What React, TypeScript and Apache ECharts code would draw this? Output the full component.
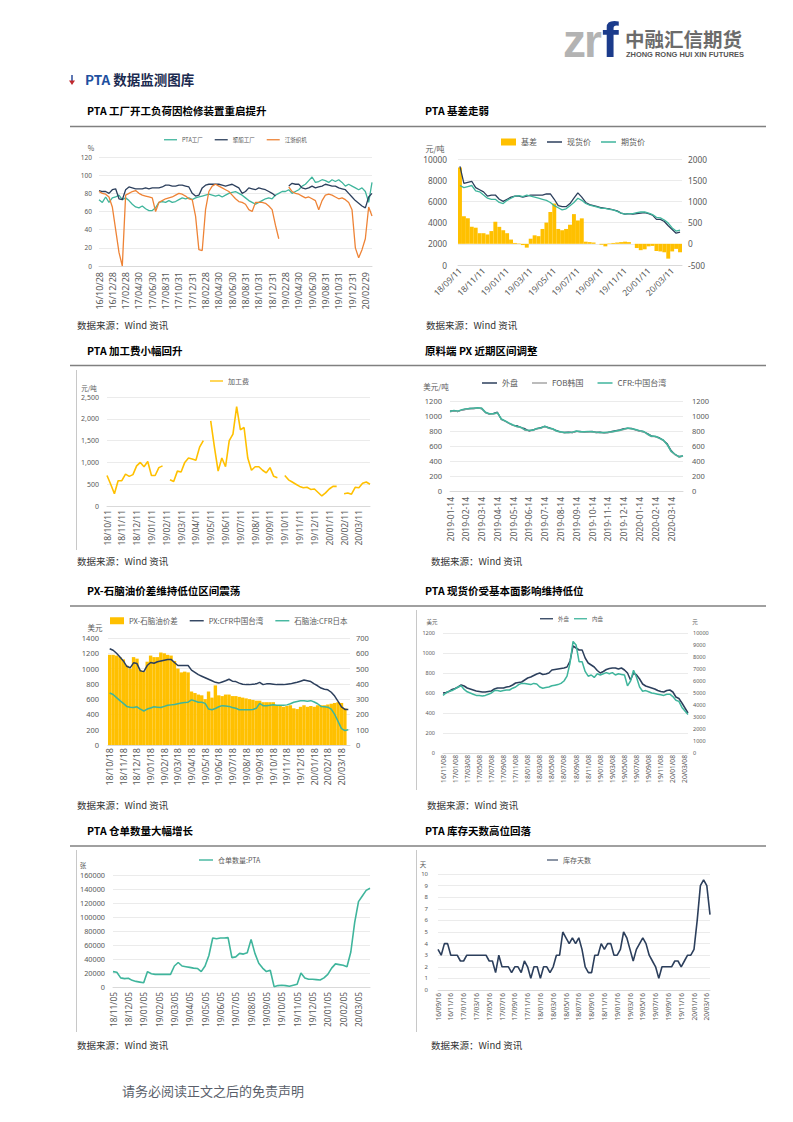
import React, { useEffect, useRef } from "react";
import * as echarts from "echarts";

// ---------------- data ----------------
// Chart 1: PTA / polyester / weaving operating rates (%)
const c1Ticks = ["16/10/28", "16/12/28", "17/02/28", "17/04/30", "17/06/30", "17/08/31", "17/10/31", "17/12/31", "18/02/28", "18/04/30", "18/06/30", "18/08/31", "18/10/31", "18/12/31", "19/02/28", "19/04/30", "19/06/30", "19/08/31", "19/10/31", "19/12/31", "20/02/29"];
const c1PTA = [73, 70, 76, 70, 75, 76, 78, 73, 75, 72, 68, 65, 64, 66, 63, 61, 61, 64, 70, 71, 70, 72, 70, 71, 73, 75, 74, 75, 73, 75, 76, 77, 78, 79, 78, 77, 78, 76, 78, 80, 81, 82, 80, 78, 75, 72, 70, 68, 70, 72, 74, 75, 74, 78, 80, 82, 82, 84, 80, 82, 84, 88, 90, 94, 98, 92, 93, 95, 94, 92, 95, 93, 95, 92, 88, 90, 88, 86, 84, 86, 82, 70, 92];
const c1Polyester = [83, 82, 82, 80, 84, 85, 74, 73, 84, 87, 86, 85, 85, 85, 86, 85, 86, 86, 86, 87, 89, 89, 88, 88, 89, 89, 88, 87, 80, 77, 78, 86, 89, 90, 90, 90, 90, 89, 88, 89, 90, 88, 86, 80, 82, 86, 85, 84, 86, 85, 84, 82, 80, 77, null, null, null, 88, 91, 90, 90, 86, 85, 86, 88, 86, 87, 88, 90, 89, 88, 88, 86, 85, 84, 80, 76, 72, 69, 66, 64, 76, 80];
const c1Weaving = [82, 80, 79, 76, 65, 40, 15, 0, 78, 80, 82, 83, 80, 78, 77, 76, 75, 60, 70, 72, 74, 75, 76, 78, 80, 79, 77, 74, 73, 55, 18, 17, 62, 82, 88, 90, 88, 86, 84, 82, 78, 74, 71, 70, 68, 62, 60, 70, 70, 70, 69, 66, 62, 45, 30, null, null, 87, 82, 80, 79, 77, 75, 76, 74, 72, 62, 72, 78, 79, 78, 76, 74, 75, 73, 70, 62, 20, 9, 18, 30, 65, 55];

// Chart 2: basis (right axis), spot & futures (left axis)
const c2Ticks = ["18/09/11", "18/11/11", "19/01/11", "19/03/11", "19/05/11", "19/07/11", "19/09/11", "19/11/11", "20/01/11", "20/03/11"];
const c2Spot = [9300, 7700, 7800, 7900, 7300, 7100, 6900, 6500, 6600, 6600, 6200, 6000, 6200, 6400, 6500, 6500, 6400, 6500, 6600, 6600, 6600, 6600, 6700, 6700, 6200, 5600, 5500, 5500, 5800, 6300, 6800, 6400, 5900, 5700, 5600, 5500, 5400, 5350, 5300, 5200, 5100, 4900, 4800, 4850, 4800, 4850, 4900, 4950, 4850, 4700, 4300, 4300, 4100, 3700, 3350, 3000, 3100];
const c2Futures = [7500, 7300, 7400, 7500, 7000, 6900, 6600, 6300, 6200, 6200, 5900, 5800, 6100, 6300, 6500, 6550, 6450, 6600, 6500, 6400, 6300, 6200, 6100, 5900, 5600, 5400, 5200, 5300, 5600, 5900, 6300, 6100, 5800, 5650, 5550, 5450, 5350, 5350, 5250, 5200, 5050, 4900, 4800, 4850, 4850, 4950, 5000, 5000, 4900, 4750, 4500, 4450, 4250, 3950, 3500, 3200, 3300];
const c2Basis = [1800, 650, 600, 400, 380, 250, 250, 220, 300, 520, 400, 320, 250, 100, 20, 10, -30, -90, 120, 200, 180, 350, 500, 750, 950, 350, 320, 350, 450, 700, 550, 600, 50, 40, 30, 0, -20, -60, 10, 20, 30, 40, 50, 40, 0, -100, -150, -130, -60, -50, -170, -180, -200, -350, -180, -120, -200];

// Chart 3: PTA processing fee (元/吨)
const c3Ticks = ["18/10/11", "18/11/11", "18/12/11", "19/01/11", "19/02/11", "19/03/11", "19/04/11", "19/05/11", "19/06/11", "19/07/11", "19/08/11", "19/09/11", "19/10/11", "19/11/11", "19/12/11", "20/01/11", "20/02/11", "20/03/11"];
const c3Fee = [700, 500, 280, 580, 580, 730, 680, 720, 920, 1000, 900, 1020, 700, 700, 880, 920, null, 600, 560, 800, 780, 1000, 1100, 1080, 1050, 1350, 1500, null, 1950, 1350, 800, 1100, 900, 1500, 1650, 2280, 1750, 1800, 1100, 820, 900, 900, 820, 760, 880, 680, 650, null, 700, 600, 550, 500, 450, 420, 430, 380, 390, 310, 230, 300, 390, 450, 450, null, 280, 300, 270, 430, 420, 520, 550, 500];

// Chart 4: PX prices (美元/吨)
const c4Ticks = ["2019-01-14", "2019-02-14", "2019-03-14", "2019-04-14", "2019-05-14", "2019-06-14", "2019-07-14", "2019-08-14", "2019-09-14", "2019-10-14", "2019-11-14", "2019-12-14", "2020-01-14", "2020-02-14", "2020-03-14"];
const c4Outer = [1065, 1070, 1060, 1080, 1090, 1100, 1100, 1105, 1100, 1045, 1025, 1035, 1050, 955, 930, 900, 875, 870, 845, 830, 800, 815, 830, 845, 860, 845, 825, 805, 785, 780, 785, 780, 795, 795, 785, 790, 795, 780, 785, 775, 780, 795, 805, 815, 830, 835, 835, 815, 800, 790, 765, 735, 725, 710, 675, 630, 540, 485, 460, 465];
const c4FOB = [1055, 1070, 1060, 1080, 1090, 1095, 1100, 1105, 1100, 1045, 1025, 1025, 1040, 955, 930, 900, 875, 855, 845, 810, 805, 805, 830, 835, 860, 835, 825, 795, 785, 775, 775, 780, 795, 785, 785, 790, 785, 780, 775, 775, 780, 785, 795, 805, 820, 835, 825, 815, 800, 790, 755, 725, 725, 700, 675, 615, 525, 485, 450, 465];
const c4CFR = [1060, 1075, 1065, 1085, 1095, 1100, 1105, 1110, 1105, 1050, 1030, 1030, 1045, 960, 935, 905, 880, 860, 850, 815, 810, 810, 835, 840, 865, 840, 830, 800, 790, 780, 780, 785, 800, 790, 790, 795, 790, 785, 780, 780, 785, 790, 800, 810, 825, 840, 830, 820, 805, 795, 760, 730, 730, 705, 680, 620, 530, 490, 455, 470];

// Chart 5: PX-naphtha spread (right axis), PX & naphtha (left axis)
const c5Ticks = ["18/10/18", "18/11/18", "18/12/18", "19/01/18", "19/02/18", "19/03/18", "19/04/18", "19/05/18", "19/06/18", "19/07/18", "19/08/18", "19/09/18", "19/10/18", "19/11/18", "19/12/18", "20/01/18", "20/02/18", "20/03/18"];
const c5Spread = [590, 590, 585, 575, 560, 520, 500, 575, 565, 490, 480, 545, 585, 575, 575, 605, 600, 590, 585, 550, 500, 475, 480, 475, 350, 340, 330, 325, 300, 350, 310, 390, 325, 320, 330, 330, 320, 320, 315, 310, 305, 300, 295, 290, 290, 280, 280, 280, 280, 260, 255, 250, 255, 260, 240, 235, 250, 260, 250, 255, 250, 260, 260, 260, 265, 270, 275, 280, 275, 240, null];
const c5PX = [1260, 1240, 1200, 1150, 1100, 1030, 1010, 1075, 1065, 970, 960, 1040, 1080, 1070, 1090, 1100, 1110, 1120, 1120, 1080, 1040, 1040, 1040, 1040, 980, 950, 920, 900, 880, 860, 840, 820, 810, 825, 840, 860, 835, 830, 810, 795, 790, 790, 795, 800, 820, 790, 800, 800, 795, 790, 790, 790, 795, 800, 810, 820, 835, 850, 840, 830, 800, 775, 745, 730, 722, 690, 640, 570, 500, 465, 465];
const c5Naphtha = [680, 660, 620, 580, 545, 505, 495, 490, 500, 470, 445, 470, 485, 500, 495, 490, 505, 520, 525, 530, 540, 550, 555, 560, 590, 575, 560, 560, 545, 470, 462, 478, 500, 515, 510, 505, 490, 480, 462, 460, 460, 460, 465, 480, 545, 515, 515, 520, 528, 520, 520, 520, 525, 540, 560, 570, 578, 580, 572, 580, 562, 540, 505, 500, 495, 470, 400, 310, 215, 190, 200];

// Chart 6: PTA outer (USD, left) and inner (CNY, right)
const c6Ticks = ["16/11/08", "17/01/08", "17/03/08", "17/05/08", "17/07/08", "17/09/08", "17/11/08", "18/01/08", "18/03/08", "18/05/08", "18/07/08", "18/09/08", "18/11/08", "19/01/08", "19/03/08", "19/05/08", "19/07/08", "19/09/08", "19/11/08", "20/01/08", "20/03/08"];
const c6Outer = [600, 605, 615, 635, 645, 660, 680, 670, 650, 640, 630, 620, 615, 610, 610, 615, 620, 640, 650, 650, 650, 660, 665, 680, 700, 705, 710, 730, 750, 760, 775, 790, 800, 785, 790, 800, 830, 835, 840, 845, 850, 860, 920, 1070, 1050, 1030, 1030, 950, 900, 880, 860, 825, 800, 815, 835, 845, 850, 850, 840, 850, 830, 800, 730, 800, 780, 740, 690, 670, 660, 650, 640, 625, 615, 610, 625, 630, 610, 560, 545, 500, 450, 400];
const c6Inner = [4800, 5000, 5150, 5200, 5350, 5500, 5600, 5300, 5100, 5000, 4900, 4800, 4800, 4750, 4800, 4900, 5000, 5200, 5200, 5150, 5200, 5250, 5250, 5400, 5500, 5700, 5800, 5800, 5750, 5700, 5800, 5750, 5500, 5400, 5450, 5500, 5600, 5650, 5700, 5800, 6000, 6400, 7500, 9300, 9000, 7600, 7600, 6800, 6400, 6500, 6300, 6600, 6500, 6600, 6700, 6600, 6700, 6500, 6600, 6550, 6500, 5600, 6000, 6900, 6300, 5500, 5150, 5200, 5100, 5000, 4950, 4900, 4850, 4800, 4900, 4900, 4700, 4400, 4300, 3800, 3500, 3200];

// Chart 7: PTA warehouse receipts (张)
const c7Ticks = ["18/11/05", "18/12/05", "19/01/05", "19/02/05", "19/03/05", "19/04/05", "19/05/05", "19/06/05", "19/07/05", "19/08/05", "19/09/05", "19/10/05", "19/11/05", "19/12/05", "20/01/05", "20/02/05", "20/03/05"];
const c7Receipts = [22000, 21000, 13000, 12000, 12500, 9500, 8000, 7000, 6000, 22000, 19000, 18000, 18000, 18000, 18000, 18000, 30000, 35000, 30000, 29000, 28000, 27000, 26500, 22000, 30000, 45000, 70000, 69000, 70000, 70000, 70500, 42000, 43000, 48000, 47000, 49000, 68000, 48000, 34000, 27000, 22000, 24000, 500, 2000, 2500, 2000, 1000, 2500, 4000, 20000, 13000, 11000, 11000, 10500, 10000, 13000, 18000, 27000, 33000, 32000, 31000, 29000, 50000, 92000, 122000, 130000, 138000, 141000];

// Chart 8: PTA inventory days (天)
const c8Ticks = ["16/09/16", "16/11/16", "17/01/16", "17/03/16", "17/05/16", "17/07/16", "17/09/16", "17/11/16", "18/01/16", "18/03/16", "18/05/16", "18/07/16", "18/09/16", "18/11/16", "19/01/16", "19/03/16", "19/05/16", "19/07/16", "19/09/16", "19/11/16", "20/01/16", "20/03/16"];
const c8Days = [3.5, 3.0, 4.0, 4.0, 3.0, 3.0, 3.0, 2.5, 2.5, 3.0, 3.0, 3.0, 3.0, 3.0, 3.0, 3.0, 2.5, 2.5, 1.5, 3.0, 2.0, 2.0, 2.0, 1.5, 2.0, 2.0, 1.5, 2.5, 2.0, 1.0, 2.0, 2.0, 1.0, 2.0, 2.0, 1.5, 2.0, 3.0, 3.0, 5.0, 4.5, 4.0, 4.5, 4.0, 4.5, 3.5, 2.0, 1.5, 1.5, 3.0, 3.0, 4.0, 3.5, 4.0, 4.0, 3.0, 3.0, 3.5, 5.0, 4.5, 3.5, 2.5, 3.5, 4.0, 4.5, 4.0, 3.0, 2.5, 2.0, 1.0, 2.0, 2.0, 2.0, 2.0, 2.5, 2.5, 2.0, 2.5, 3.0, 3.0, 3.5, 6.0, 9.0, 9.5, 9.0, 6.5];

// ---------------- styles ----------------
const FONT = "'Noto Sans', 'Noto Sans CJK SC', sans-serif";
const CJK = "'Noto Sans CJK SC', 'Noto Sans', sans-serif";
const TEAL = "#3fb59c";
const NAVY = "#2c3f5c";
const ORANGE = "#ee8336";
const YELLOW = "#ffc000";
const GRAY = "#a6a6a6";
const TXT = "#595959";
const SPLIT = "#e6e6e6";
const LINE_ICON = "path://M0 0H20V2H0Z";

// ---------------- helpers ----------------
function buildCats(ticks: string[], per: number, len: number): string[] {
  const out: string[] = [];
  for (let i = 0; i < len; i++) {
    const k = Math.floor(i / per);
    const t = ticks[Math.min(k, ticks.length - 1)];
    out.push(i % per === 0 && k < ticks.length ? t : `${t} ·${i % per}`);
  }
  return out;
}

function xCat(data: string[], per: number, o: any) {
  return {
    type: "category",
    data,
    boundaryGap: !!o.bg,
    axisTick: { show: false },
    axisLine: { lineStyle: { color: "#d9d9d9", width: 1 } },
    axisLabel: {
      interval: per - 1,
      rotate: o.rotate ?? 90,
      fontSize: o.fs,
      color: TXT,
      fontFamily: FONT,
      margin: o.margin ?? 4,
    },
    splitLine: { show: false },
  };
}

const plain = (v: number) => String(v);

function yVal(min: number, max: number, interval: number, o: any) {
  return {
    type: "value",
    min,
    max,
    interval,
    position: o.pos ?? "left",
    axisLine: { show: false },
    axisTick: { show: false },
    axisLabel: {
      fontSize: o.fs,
      color: TXT,
      fontFamily: FONT,
      margin: o.margin ?? 6,
      formatter: o.fmt ?? plain,
    },
    splitLine: { show: o.split ?? true, lineStyle: { color: SPLIT, width: 0.8 } },
  };
}

function legendCfg(left: number, top: number, items: [string, string][], fs: number, itemW: number, gap: number, itemH = 7) {
  return {
    left,
    top,
    padding: 0,
    itemWidth: itemW,
    itemHeight: itemH,
    itemGap: gap,
    textStyle: { fontSize: fs, color: TXT, fontFamily: CJK },
    data: items.map(([name, kind]) => ({ name, icon: kind === "bar" ? "rect" : LINE_ICON })),
  };
}

function unit(text: string, x: number, y: number, fs: number) {
  return {
    type: "text",
    x,
    y,
    style: { text, fontSize: fs, fill: TXT, fontFamily: CJK, align: "center", verticalAlign: "middle" },
  };
}

function line(name: string, data: any[], color: string, yAxisIndex = 0, width = 1.3) {
  return {
    name,
    type: "line",
    data,
    yAxisIndex,
    showSymbol: false,
    symbol: "none",
    connectNulls: false,
    lineStyle: { color, width },
    itemStyle: { color },
    z: 3,
  };
}

function bar(name: string, data: any[], color: string, yAxisIndex = 0) {
  return {
    name,
    type: "bar",
    data,
    yAxisIndex,
    barCategoryGap: "0%",
    barGap: "0%",
    itemStyle: { color },
    z: 2,
  };
}

// ---------------- options ----------------
const opt1 = {
  animation: false,
  grid: { left: 24, right: 13, top: 29, bottom: 54 },
  legend: legendCfg(89, 9, [["PTA工厂", "line"], ["聚酯工厂", "line"], ["江浙织机", "line"]], 5.5, 13, 12, 5),
  xAxis: xCat(buildCats(c1Ticks, 4, c1PTA.length), 4, { fs: 9, margin: 6 }),
  yAxis: yVal(0, 120, 20, { fs: 6.5, margin: 7 }),
  graphic: [unit("%", 16, 20, 7)],
  series: [line("PTA工厂", c1PTA, TEAL), line("聚酯工厂", c1Polyester, NAVY), line("江浙织机", c1Weaving, ORANGE)],
};

const opt2 = {
  animation: false,
  grid: { left: 43, right: 68, top: 31, bottom: 55 },
  legend: legendCfg(86, 10, [["基差", "bar"], ["现货价", "line"], ["期货价", "line"]], 8, 15, 10, 7),
  xAxis: xCat(buildCats(c2Ticks, 6, c2Spot.length), 6, { fs: 8.5, rotate: 45, margin: 4, bg: true }),
  yAxis: [
    yVal(0, 10000, 2000, { fs: 8.3, margin: 11 }),
    yVal(-500, 2000, 500, { fs: 8.3, margin: 6, pos: "right", split: false }),
  ],
  graphic: [unit("元/吨", 20, 20, 8)],
  series: [bar("基差", c2Basis, YELLOW, 1), line("现货价", c2Spot, NAVY), line("期货价", c2Futures, TEAL)],
};

const opt3 = {
  animation: false,
  grid: { left: 32, right: 15, top: 29, bottom: 52 },
  legend: legendCfg(135, 9.5, [["加工费", "line"]], 7, 13, 10, 7),
  xAxis: xCat(buildCats(c3Ticks, 4, c3Fee.length), 4, { fs: 8.5, margin: 4 }),
  yAxis: yVal(0, 2500, 500, { fs: 7, margin: 8, fmt: (v: number) => v.toLocaleString("en-US") }),
  graphic: [unit("元/吨", 14, 20, 6.5)],
  series: [line("加工费", c3Fee, YELLOW, 0, 1.6)],
};

const opt4 = {
  animation: false,
  grid: { left: 35, right: 67, top: 33, bottom: 67 },
  legend: legendCfg(67, 11, [["外盘", "line"], ["FOB韩国", "line"], ["CFR:中国台湾", "line"]], 8, 15, 14, 7),
  xAxis: xCat(buildCats(c4Ticks, 4, c4CFR.length), 4, { fs: 8.5, margin: 6 }),
  yAxis: [
    yVal(0, 1200, 200, { fs: 7.5, margin: 8 }),
    yVal(0, 1200, 200, { fs: 7.5, margin: 9, pos: "right", split: false }),
  ],
  graphic: [unit("美元/吨", 21, 18, 7.5)],
  series: [line("外盘", c4Outer, NAVY), line("FOB韩国", c4FOB, GRAY), line("CFR:中国台湾", c4CFR, TEAL, 0, 1.5)],
};

const opt5 = {
  animation: false,
  grid: { left: 33, right: 35, top: 30, bottom: 55 },
  legend: legendCfg(35, 9, [["PX-石脑油价差", "bar"], ["PX:CFR中国台湾", "line"], ["石脑油:CFR日本", "line"]], 7.5, 14, 12, 7),
  xAxis: xCat(buildCats(c5Ticks, 4, c5PX.length), 4, { fs: 9, margin: 3, bg: true }),
  yAxis: [
    yVal(0, 1400, 200, { fs: 7.5, margin: 9 }),
    yVal(0, 700, 100, { fs: 7.5, margin: 6, pos: "right", split: false }),
  ],
  graphic: [unit("美元", 20, 19, 7.5)],
  series: [bar("PX-石脑油价差", c5Spread, YELLOW, 1), line("PX:CFR中国台湾", c5PX, NAVY, 0, 1.5), line("石脑油:CFR日本", c5Naphtha, TEAL, 0, 1.5)],
};

const opt6 = {
  animation: false,
  grid: { left: 28, right: 62, top: 25, bottom: 47 },
  legend: legendCfg(125, 8, [["外盘", "line"], ["内盘", "line"]], 5.5, 13, 5, 5),
  xAxis: xCat(buildCats(c6Ticks, 4, c6Outer.length), 4, { fs: 6.7, margin: 2 }),
  yAxis: [
    yVal(0, 1200, 200, { fs: 5.5, margin: 8 }),
    yVal(0, 10000, 1000, { fs: 5.5, margin: 5, pos: "right", split: false }),
  ],
  graphic: [unit("美元", 17, 14, 5.5), unit("元", 280, 14, 5.5)],
  series: [line("外盘", c6Outer, NAVY, 0, 1.5), line("内盘", c6Inner, TEAL, 1, 1.5)],
};

const opt7 = {
  animation: false,
  grid: { left: 38, right: 15, top: 27, bottom: 53 },
  legend: legendCfg(124, 8.5, [["仓单数量:PTA", "line"]], 7, 14, 10, 7),
  xAxis: xCat(buildCats(c7Ticks, 4, c7Receipts.length), 4, { fs: 8.4, margin: 5 }),
  yAxis: yVal(0, 160000, 20000, { fs: 7.3, margin: 8 }),
  graphic: [unit("张", 8, 17, 6.5)],
  series: [line("仓单数量:PTA", c7Receipts, TEAL, 0, 1.6)],
};

const opt8 = {
  animation: false,
  grid: { left: 23, right: 40, top: 26, bottom: 50 },
  legend: legendCfg(132, 8.5, [["库存天数", "line"]], 7, 11, 10, 7),
  xAxis: xCat(buildCats(c8Ticks, 4, c8Days.length), 4, { fs: 6.6, margin: 3 }),
  yAxis: yVal(0, 10, 1, { fs: 6, margin: 10 }),
  graphic: [unit("天", 8, 16, 6.5)],
  series: [line("库存天数", c8Days, NAVY, 0, 1.6)],
};

// ---------------- components ----------------
function EChart({ box, option }: { box: number[]; option: any }) {
  const ref = useRef<HTMLDivElement>(null);
  useEffect(() => {
    const chart = echarts.init(ref.current as HTMLDivElement, null, { renderer: "svg" });
    chart.setOption(option);
    return () => chart.dispose();
  }, []);
  return (
    <div
      ref={ref}
      style={{ position: "absolute", left: box[0], top: box[1], width: box[2], height: box[3] }}
    />
  );
}

const SOURCE = "数据来源：Wind 资讯";

export default function App() {
  const titleStyle = { fontFamily: CJK, fontWeight: 700, fontSize: 10.5, fill: "#000" } as any;
  const srcStyle = { fontFamily: CJK, fontSize: 9.5, fill: "#333" } as any;
  return (
    <div
      style={{
        position: "absolute",
        left: 0,
        top: 0,
        width: 793,
        height: 1122,
        overflow: "hidden",
        background: "#fff",
      }}
    >
      <svg width={793} height={1122} style={{ position: "absolute", left: 0, top: 0 }}>
        {/* logo */}
        <text x={563} y={57} fontFamily="'Liberation Sans', Arial, sans-serif" fontWeight={700} fontSize={46} fill="#b3b3b3" letterSpacing={-2}>
          zr
        </text>
        <text x={602} y={57} fontFamily="'Liberation Sans', Arial, sans-serif" fontWeight={700} fontSize={50} fill="#1b3b8b">
          f
        </text>
        <text x={625} y={47} fontFamily={CJK} fontWeight={700} fontSize={19.5} fill="#6b6b6b">
          中融汇信期货
        </text>
        <text x={626} y={57} fontFamily="'Liberation Sans', Arial, sans-serif" fontWeight={700} fontSize={6.6} fill="#555" textLength={118} lengthAdjust="spacingAndGlyphs">
          ZHONG RONG HUI XIN FUTURES
        </text>

        {/* section heading */}
        <line x1={72} y1={75} x2={72} y2={82} stroke="#2a4b9b" strokeWidth={1.5} />
        <polygon points="69,80.5 75,80.5 72,85" fill="#c0282d" />
        <text x={85} y={85} fontFamily={CJK} fontWeight={700} fontSize={13.5}>
          <tspan fill="#1e50a0">PTA</tspan>
          <tspan fill="#1b2b50"> 数据监测图库</tspan>
        </text>

        {/* chart titles */}
        <text x={87} y={115} style={titleStyle}>PTA 工厂开工负荷因检修装置重启提升</text>
        <text x={425} y={115} style={titleStyle}>PTA 基差走弱</text>
        <text x={87} y={355} style={titleStyle}>PTA 加工费小幅回升</text>
        <text x={425} y={355} style={titleStyle}>原料端 PX 近期区间调整</text>
        <text x={87} y={595} style={titleStyle}>PX-石脑油价差维持低位区间震荡</text>
        <text x={425} y={595} style={titleStyle}>PTA 现货价受基本面影响维持低位</text>
        <text x={87} y={835} style={titleStyle}>PTA 仓单数量大幅增长</text>
        <text x={425} y={835} style={titleStyle}>PTA 库存天数高位回落</text>

        {/* row separators */}
        <line x1={70} y1={126.5} x2={766} y2={126.5} stroke="#808080" strokeWidth={1.5} />
        <line x1={70} y1={365.5} x2={766} y2={365.5} stroke="#808080" strokeWidth={1.5} />
        <line x1={70} y1={606} x2={766} y2={606} stroke="#808080" strokeWidth={1.5} />
        <line x1={70} y1={846} x2={766} y2={846} stroke="#808080" strokeWidth={1.5} />

        {/* image frame edges */}
        <line x1={76.5} y1={370} x2={76.5} y2={550} stroke="#c8c8c8" strokeWidth={1} />
        <line x1={416.5} y1={610} x2={416.5} y2={790} stroke="#c8c8c8" strokeWidth={1} />
        <line x1={76.5} y1={850} x2={76.5} y2={1032} stroke="#c8c8c8" strokeWidth={1} />
        <line x1={416.5} y1={850} x2={416.5} y2={1032} stroke="#c8c8c8" strokeWidth={1} />

        {/* sources */}
        <text x={77} y={328.5} style={srcStyle}>{SOURCE}</text>
        <text x={426} y={328.5} style={srcStyle}>{SOURCE}</text>
        <text x={77} y={564.5} style={srcStyle}>{SOURCE}</text>
        <text x={431} y={564.5} style={srcStyle}>{SOURCE}</text>
        <text x={77} y={808.5} style={srcStyle}>{SOURCE}</text>
        <text x={427} y={808.5} style={srcStyle}>{SOURCE}</text>
        <text x={77} y={1048.5} style={srcStyle}>{SOURCE}</text>
        <text x={431} y={1048.5} style={srcStyle}>{SOURCE}</text>

        {/* footer */}
        <text x={122} y={1095.5} fontFamily={CJK} fontSize={13} fill="#5a5f6b">
          请务必阅读正文之后的免责声明
        </text>
      </svg>

      <EChart box={[75, 128, 310, 192]} option={opt1} />
      <EChart box={[415, 128, 335, 192]} option={opt2} />
      <EChart box={[75, 368, 310, 190]} option={opt3} />
      <EChart box={[415, 368, 335, 190]} option={opt4} />
      <EChart box={[75, 608, 310, 192]} option={opt5} />
      <EChart box={[415, 608, 335, 192]} option={opt6} />
      <EChart box={[75, 848, 310, 192]} option={opt7} />
      <EChart box={[415, 848, 335, 192]} option={opt8} />
    </div>
  );
}
